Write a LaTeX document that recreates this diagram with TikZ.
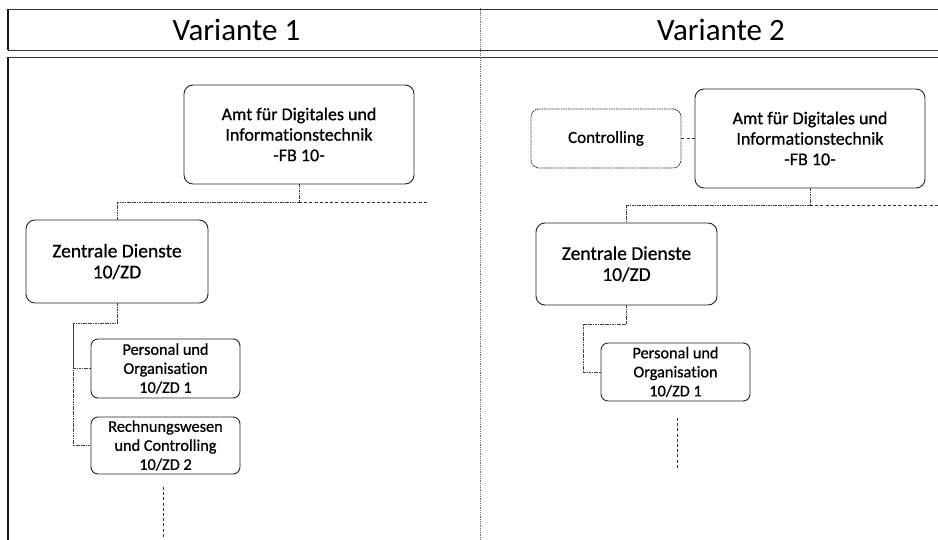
\documentclass[tikz,border=0pt]{standalone}
\usepackage{fontspec}
\setmainfont[Ligatures=NoCommon]{Carlito}
\newfontfamily\boxfont[Ligatures=NoCommon,FakeBold=0.7]{Carlito}
\usetikzlibrary{calc}
\tikzset{
  unit/.style={x=1pt,y=-1pt},
  orgbox/.style={draw=black!85,line width=0.9pt,rounded corners=9pt,align=center,inner sep=0pt,
    font=\boxfont\fontsize{18}{20.5}\selectfont},
  zdbox/.style={draw=black!85,line width=0.9pt,rounded corners=9pt,align=center,inner sep=0pt,
    font=\boxfont\fontsize{19.5}{21}\selectfont},
  subbox/.style={draw=black!85,line width=0.9pt,rounded corners=7pt,align=center,inner sep=0pt,
    font=\boxfont\fontsize{16.3}{19}\selectfont},
  ctrlbox/.style={draw=black!80,line width=0.8pt,dash pattern=on 1.6pt off 0.8pt,rounded corners=8pt,
    align=center,inner sep=0pt,font=\boxfont\fontsize{17}{20}\selectfont},
  link/.style={draw=black!75,line width=0.7pt,dash pattern=on 1.2pt off 0.5pt},
  ext/.style={draw=black!80,line width=0.8pt,dash pattern=on 3pt off 2.2pt},
  frameline/.style={draw=black!80,line width=0.9pt,dash pattern=on 1.5pt off 0.5pt},
  divider/.style={draw=black!55,line width=0.7pt,dash pattern=on 1pt off 0.8pt},
  head/.style={font=\fontsize{31}{34}\selectfont,inner sep=0pt,anchor=base}
}
\begin{document}
\begin{tikzpicture}[unit]
\useasboundingbox (0,0) rectangle (938,540);
\fill[white] (0,0) rectangle (938,540);

% table frame
\draw[frameline] (8,9) -- (938,9);
\draw[frameline] (8,50) -- (938,50);
\draw[frameline] (8,57) -- (938,57);
\draw[black!90,line width=1.6pt] (8,9) -- (8,50);
\draw[black!90,line width=1.6pt] (8,57) -- (8,540);
\draw[divider] (480,8) -- (480,540);

\node[head] (h1) at (236.5,41) {Variante 1};
\node[head] (h2) at (721,41) {Variante 2};

% ---- Variante 1 ----
\node[orgbox,minimum width=230pt,minimum height=99pt] (amt1) at (299,134.5)
  {Amt für Digitales und\\Informationstechnik\\-FB 10-};
\node[zdbox,minimum width=182pt,minimum height=83pt] (zd1) at (117,261.5)
  {Zentrale Dienste\\10/ZD};
\node[subbox,minimum width=149pt,minimum height=59pt] (po1) at (165.5,368.5)
  {Personal und\\Organisation\\10/ZD 1};
\node[subbox,minimum width=149pt,minimum height=57pt] (rw1) at (165.5,445.5)
  {Rechnungswesen\\und Controlling\\10/ZD 2};

\coordinate (bus1) at (0,202);
\coordinate (end1) at (428,202);
\coordinate (sp1) at (73,323);
\coordinate (c1a) at (163,487);
\coordinate (c1b) at (163,538);

\draw[link] (amt1.south) |- (zd1.north |- bus1) -- (zd1.north);
\draw[ext] (amt1.south |- bus1) -- (end1);
\draw[link] (zd1.south) |- (sp1) |- (rw1.west);
\draw[link] (sp1) |- (po1.west);
\draw[ext] (c1a) -- (c1b);

% ---- Variante 2 ----
\node[ctrlbox,minimum width=150pt,minimum height=59pt] (ctrl) at (606,138.5) {Controlling};
\node[orgbox,minimum width=230pt,minimum height=99pt] (amt2) at (810,138.5)
  {Amt für Digitales und\\Informationstechnik\\-FB 10-};
\node[zdbox,minimum width=181pt,minimum height=82pt] (zd2) at (626.5,264)
  {Zentrale Dienste\\10/ZD};
\node[subbox,minimum width=149pt,minimum height=58pt] (po2) at (675.5,372)
  {Personal und\\Organisation\\10/ZD 1};

\coordinate (bus2) at (0,205);
\coordinate (end2) at (938,205);
\coordinate (sp2) at (583,324);
\coordinate (c2a) at (677,418);
\coordinate (c2b) at (677,469);

\draw[ext] (ctrl.east) -- (amt2.west);
\draw[link] (amt2.south) |- (zd2.north |- bus2) -- (zd2.north);
\draw[ext] (amt2.south |- bus2) -- (end2);
\draw[link] (zd2.south) |- (sp2) |- (po2.west);
\draw[ext] (c2a) -- (c2b);
\end{tikzpicture}
\end{document}
